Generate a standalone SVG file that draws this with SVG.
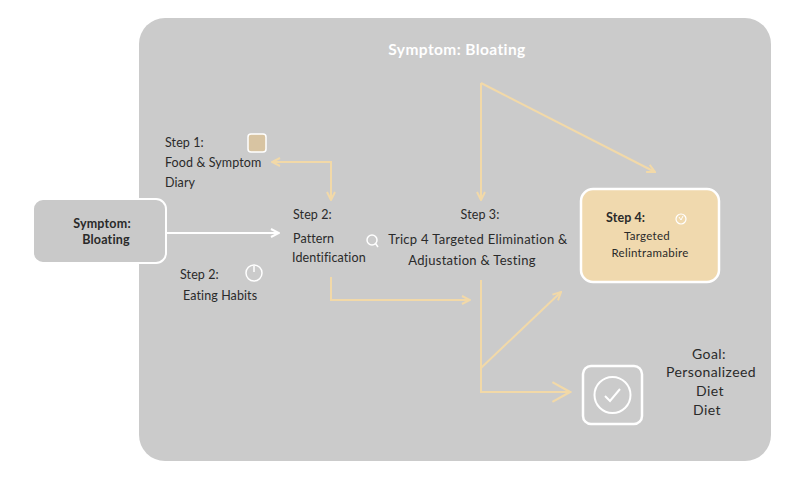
<svg xmlns="http://www.w3.org/2000/svg" width="800" height="480" viewBox="0 0 800 480">
<style>
  text { font-family: Lato, "Open Sans", "Liberation Sans", sans-serif; fill: #2a2a2a; font-size: 12.5px; letter-spacing: 0.1px; }
  .b { font-weight: bold; }
  .c { text-anchor: middle; }
  .tan { fill: none; stroke: #f2d9a8; stroke-width: 2; }
  .wht { fill: none; stroke: #ffffff; stroke-width: 2; }
</style>
<defs>
  <marker id="at" viewBox="0 0 10 10" refX="9" refY="5" markerWidth="5" markerHeight="5" orient="auto-start-reverse">
    <path d="M1,1 L9,5 L1,9" fill="none" stroke="#f2d9a8" stroke-width="2"/>
  </marker>
  <marker id="atb" viewBox="0 0 10 10" refX="9" refY="5" markerWidth="11" markerHeight="11" orient="auto">
    <path d="M1,0.5 L9,5 L1,9.5" fill="none" stroke="#f2d9a8" stroke-width="1"/>
  </marker>
  <marker id="aw" viewBox="0 0 10 10" refX="9" refY="5" markerWidth="5" markerHeight="5" orient="auto">
    <path d="M1,1 L9,5 L1,9" fill="none" stroke="#ffffff" stroke-width="2"/>
  </marker>
</defs>
<rect width="800" height="480" fill="#ffffff"/>
<g id="panel">
  <rect x="139" y="18" width="632" height="443" rx="26" fill="#cbcbcb"/>
  <text x="457" y="55" class="b c" style="fill:#ffffff;font-size:15.5px;letter-spacing:0.4px">Symptom: Bloating</text>
</g>
<g id="connectors">
  <line x1="166" y1="233" x2="279" y2="233" class="wht" marker-end="url(#aw)"/>
  <polyline points="272,162 331,162 331,200" class="tan" marker-start="url(#at)" marker-end="url(#at)"/>
  <polyline points="331,277 331,300 470,300" class="tan" marker-end="url(#at)"/>
  <line x1="481" y1="83" x2="481" y2="200" class="tan" marker-end="url(#at)"/>
  <line x1="481" y1="83" x2="655" y2="172" class="tan" marker-end="url(#at)"/>
  <polyline points="481,280 481,392 570,392" class="tan" marker-end="url(#atb)"/>
  <line x1="481" y1="368" x2="561" y2="292" class="tan" marker-end="url(#at)"/>
</g>
<g id="symptom">
  <rect x="33" y="199" width="133" height="64" rx="10" fill="#c9c9c9" stroke="#ffffff" stroke-width="2"/>
  <text x="102" y="228" class="b c" style="letter-spacing:0.2px">Symptom:</text>
  <text x="106" y="244" class="b c" style="letter-spacing:0.2px">Bloating</text>
</g>
<g id="step1">
  <text x="165" y="147">Step 1:</text>
  <text x="165" y="167">Food &amp; Symptom</text>
  <text x="165" y="187">Diary</text>
  <rect x="248" y="134" width="18" height="18" rx="3" fill="#d8c4a2" stroke="#ffffff" stroke-width="1.5"/>
</g>
<g id="step2">
  <text x="293" y="219">Step 2:</text>
  <text x="293" y="243">Pattern</text>
  <text x="292" y="262">Identification</text>
  <circle cx="372" cy="240" r="5" fill="none" stroke="#ffffff" stroke-width="1.5"/>
  <line x1="375.5" y1="243.5" x2="378" y2="247" stroke="#ffffff" stroke-width="1.5"/>
</g>
<g id="step3">
  <text x="480" y="219" class="c">Step 3:</text>
  <text x="478" y="244" class="c" style="font-size:13px;letter-spacing:0.3px">Tricp 4 Targeted Elimination &amp;</text>
  <text x="472" y="265" class="c" style="font-size:13px;letter-spacing:0.3px">Adjustation &amp; Testing</text>
</g>
<g id="step4">
  <rect x="581" y="189" width="138" height="93" rx="12" fill="#f0d9ae" stroke="#ffffff" stroke-width="2.5"/>
  <text x="606" y="222" class="b">Step 4:</text>
  <circle cx="681" cy="219" r="5" fill="none" stroke="#ffffff" stroke-width="1.2"/>
  <path d="M679,217 L681,220 L683,216" fill="none" stroke="#ffffff" stroke-width="1"/>
  <text x="647" y="240" class="c" style="font-size:11.5px;letter-spacing:0.3px">Targeted</text>
  <text x="650" y="257" class="c" style="font-size:11.5px;letter-spacing:0.3px">Relintramabire</text>
</g>
<g id="eating">
  <text x="180" y="279">Step 2:</text>
  <text x="183" y="300">Eating Habits</text>
  <circle cx="254" cy="273" r="8" fill="none" stroke="#ffffff" stroke-width="1.5"/>
  <line x1="254" y1="266" x2="254" y2="272" stroke="#ffffff" stroke-width="1.5"/>
</g>
<g id="goal">
  <rect x="583" y="366" width="59" height="58" rx="8" fill="#cbcbcb" stroke="#ffffff" stroke-width="2.5"/>
  <circle cx="612.5" cy="395" r="18" fill="none" stroke="#ffffff" stroke-width="2"/>
  <path d="M605,396 L610,401 L620,389" fill="none" stroke="#ffffff" stroke-width="2"/>
  <text x="709" y="359" class="c" style="font-size:14px;letter-spacing:0.4px">Goal:</text>
  <text x="711" y="377" class="c" style="font-size:14px;letter-spacing:0.4px">Personalizeed</text>
  <text x="710" y="396" class="c" style="font-size:14px;letter-spacing:0.4px">Diet</text>
  <text x="707" y="415" class="c" style="font-size:14px;letter-spacing:0.4px">Diet</text>
</g>
</svg>
